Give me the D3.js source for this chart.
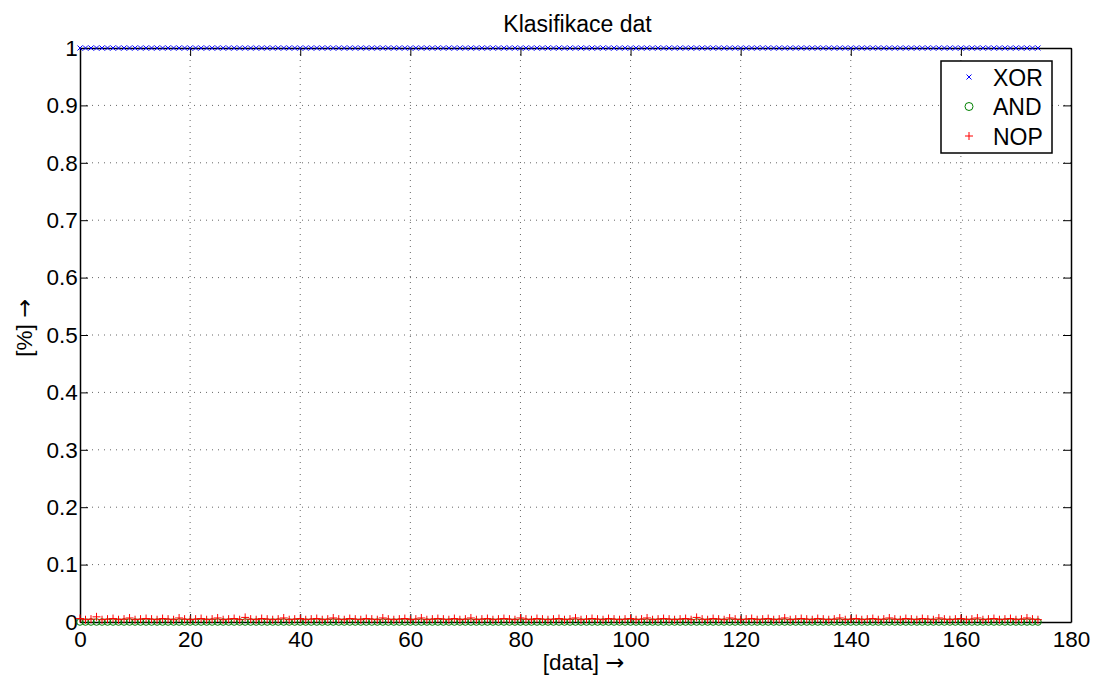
<!DOCTYPE html>
<html>
<head>
<meta charset="utf-8">
<script src="https://cdn.jsdelivr.net/npm/d3@7"></script>
<style>
  body { margin: 0; background: #fff; }
  text { font-family: "Liberation Sans", Arial, sans-serif; fill: #000; }
</style>
</head>
<body>
<svg id="chart" width="1094" height="675"></svg>
<script>
// data (index 0..174)
let xorValues = [
  1,1,1,1,1,1,1,1,1,1,1,1,1,1,1,1,1,1,1,1,1,1,1,1,1,
  1,1,1,1,1,1,1,1,1,1,1,1,1,1,1,1,1,1,1,1,1,1,1,1,1,
  1,1,1,1,1,1,1,1,1,1,1,1,1,1,1,1,1,1,1,1,1,1,1,1,1,
  1,1,1,1,1,1,1,1,1,1,1,1,1,1,1,1,1,1,1,1,1,1,1,1,1,
  1,1,1,1,1,1,1,1,1,1,1,1,1,1,1,1,1,1,1,1,1,1,1,1,1,
  1,1,1,1,1,1,1,1,1,1,1,1,1,1,1,1,1,1,1,1,1,1,1,1,1,
  1,1,1,1,1,1,1,1,1,1,1,1,1,1,1,1,1,1,1,1,1,1,1,1,1
];
let andValues = [
  0,0,0,0,0,0,0,0,0,0,0,0,0,0,0,0,0,0,0,0,0,0,0,0,0,
  0,0,0,0,0,0,0,0,0,0,0,0,0,0,0,0,0,0,0,0,0,0,0,0,0,
  0,0,0,0,0,0,0,0,0,0,0,0,0,0,0,0,0,0,0,0,0,0,0,0,0,
  0,0,0,0,0,0,0,0,0,0,0,0,0,0,0,0,0,0,0,0,0,0,0,0,0,
  0,0,0,0,0,0,0,0,0,0,0,0,0,0,0,0,0,0,0,0,0,0,0,0,0,
  0,0,0,0,0,0,0,0,0,0,0,0,0,0,0,0,0,0,0,0,0,0,0,0,0,
  0,0,0,0,0,0,0,0,0,0,0,0,0,0,0,0,0,0,0,0,0,0,0,0,0
];
let nopValues = [
  .006,.004,.005,.009,.004,.005,.006,.004,.005,.007,.004,.005,.006,.005,.004,.006,.005,.004,.007,.005,.004,.005,.006,.004,.005,
  .007,.004,.005,.006,.004,.008,.005,.004,.006,.005,.004,.005,.007,.004,.005,.006,.004,.005,.006,.004,.005,.007,.005,.004,.006,
  .005,.004,.006,.005,.004,.007,.005,.004,.005,.006,.004,.005,.007,.004,.005,.006,.005,.004,.006,.004,.005,.007,.004,.005,.006,
  .004,.005,.006,.005,.004,.007,.005,.004,.006,.005,.004,.005,.006,.004,.005,.007,.004,.005,.006,.005,.004,.006,.005,.004,.005,
  .006,.004,.005,.007,.004,.005,.006,.005,.004,.005,.006,.004,.008,.005,.004,.006,.005,.004,.007,.005,.004,.005,.006,.004,.005,
  .006,.004,.005,.007,.004,.005,.006,.005,.004,.006,.005,.004,.005,.007,.004,.005,.006,.004,.005,.006,.004,.005,.007,.005,.004,
  .006,.005,.004,.006,.005,.004,.007,.005,.004,.005,.006,.004,.005,.007,.004,.005,.006,.004,.005,.006,.004,.005,.007,.005,.004
];
let xTicks = [0, 20, 40, 60, 80, 100, 120, 140, 160, 180];
let yTicks = [0, 0.1, 0.2, 0.3, 0.4, 0.5, 0.6, 0.7, 0.8, 0.9, 1];
let seriesNames = ['XOR', 'AND', 'NOP'];

/*************************** LAYOUT *********************************/
let svg = d3.select('#chart');
let plotLeft = 80, plotRight = 1071, plotTop = 48, plotBottom = 622;
let fontSize = 22.5;

let x = d3.scaleLinear().domain([0, 180]).range([plotLeft, plotRight]);
let y = d3.scaleLinear().domain([0, 1]).range([plotBottom, plotTop]);

// grid
let grid = svg.append('g');
xTicks.slice(1, -1).forEach((t) => {
    grid.append('line')
        .attr('x1', x(t)).attr('x2', x(t))
        .attr('y1', plotTop).attr('y2', plotBottom)
        .attr('stroke', '#666').attr('stroke-width', 1)
        .attr('stroke-dasharray', '1,5');
});
yTicks.slice(1, -1).forEach((t) => {
    grid.append('line')
        .attr('x1', plotLeft).attr('x2', plotRight)
        .attr('y1', y(t)).attr('y2', y(t))
        .attr('stroke', '#666').attr('stroke-width', 1)
        .attr('stroke-dasharray', '1,5');
});

// axes (ticks inward, matlab style)
let xAxis = d3.axisBottom(x).tickValues(xTicks).tickSizeInner(-8).tickSizeOuter(0).tickPadding(4);
let yAxis = d3.axisLeft(y).tickValues(yTicks).tickSizeInner(-8).tickSizeOuter(0).tickPadding(5)
    .tickFormat(d3.format('~g'));

let gx = svg.append('g').attr('transform', `translate(0,${plotBottom})`).call(xAxis);
let gy = svg.append('g').attr('transform', `translate(${plotLeft},0)`).call(yAxis);
let gxTop = svg.append('g').attr('transform', `translate(0,${plotTop})`)
    .call(d3.axisTop(x).tickValues(xTicks).tickSizeInner(-8).tickSizeOuter(0).tickFormat(''));
let gyRight = svg.append('g').attr('transform', `translate(${plotRight},0)`)
    .call(d3.axisRight(y).tickValues(yTicks).tickSizeInner(-8).tickSizeOuter(0).tickFormat(''));

[gx, gy, gxTop, gyRight].forEach((g) => {
    g.select('.domain').attr('stroke', '#000').attr('stroke-width', 1.5);
    g.selectAll('.tick line').attr('stroke', '#000');
    g.selectAll('.tick text').attr('font-size', fontSize).attr('fill', '#000')
        .attr('font-family', '"Liberation Sans", Arial, sans-serif');
});
gx.selectAll('.tick text').attr('y', 25).attr('dy', 0);
gy.selectAll('.tick text').attr('dx', '0.12em');

/*************************** SERIES *********************************/
let plusPath = 'M-4,0H4M0,-4V4';
let crossPath = 'M-2.5,-2.5L2.5,2.5M-2.5,2.5L2.5,-2.5';

let plot = svg.append('g');

plot.selectAll('.and').data(andValues).enter().append('circle')
    .attr('cx', (d, i) => x(i)).attr('cy', (d) => y(d)).attr('r', 3.3)
    .attr('fill', 'none').attr('stroke', '#008000').attr('stroke-width', 1);

plot.selectAll('.nop').data(nopValues).enter().append('path')
    .attr('d', plusPath)
    .attr('transform', (d, i) => `translate(${x(i)},${y(d)})`)
    .attr('stroke', '#ff0000').attr('stroke-width', 1).attr('fill', 'none');

plot.selectAll('.xor').data(xorValues).enter().append('path')
    .attr('d', crossPath)
    .attr('transform', (d, i) => `translate(${x(i)},${y(d)})`)
    .attr('stroke', '#0000ff').attr('stroke-width', 1).attr('fill', 'none');

/*************************** LEGEND *********************************/
let legend = svg.append('g').attr('transform', 'translate(941,61)');
legend.append('rect')
    .attr('width', 111).attr('height', 92)
    .attr('fill', '#fff').attr('stroke', '#000').attr('stroke-width', 1.5);

let legendColors = ['#0000ff', '#008000', '#ff0000'];
seriesNames.forEach((name, i) => {
    let cy = 16 + i * 29.5;
    if (i === 0) {
        legend.append('path').attr('d', crossPath).attr('transform', `translate(28,${cy})`)
            .attr('stroke', legendColors[i]).attr('fill', 'none');
    } else if (i === 1) {
        legend.append('circle').attr('cx', 28).attr('cy', cy).attr('r', 4)
            .attr('stroke', legendColors[i]).attr('fill', 'none');
    } else {
        legend.append('path').attr('d', plusPath).attr('transform', `translate(28,${cy})`)
            .attr('stroke', legendColors[i]).attr('fill', 'none');
    }
    legend.append('text').attr('x', 52).attr('y', cy + 8.5)
        .attr('font-size', fontSize + 0.5).text(name);
});

/*************************** LABELS *********************************/
svg.append('text').attr('x', (plotLeft + plotRight) / 2 + 2).attr('y', 32)
    .attr('text-anchor', 'middle').attr('font-size', 23).text('Klasifikace dat');

let xLabel = svg.append('text').attr('x', (plotLeft + plotRight) / 2 + 8).attr('y', 670)
    .attr('text-anchor', 'middle').attr('font-size', fontSize);
xLabel.append('tspan').text('[data] ');
xLabel.append('tspan').attr('font-family', '"DejaVu Sans"').text('\u2192');

let yLabel = svg.append('text')
    .attr('transform', `translate(32,328) rotate(-90)`)
    .attr('text-anchor', 'middle').attr('font-size', fontSize);
yLabel.append('tspan').text('[%] ');
yLabel.append('tspan').attr('font-family', '"DejaVu Sans"').text('\u2192');
</script>
</body>
</html>
